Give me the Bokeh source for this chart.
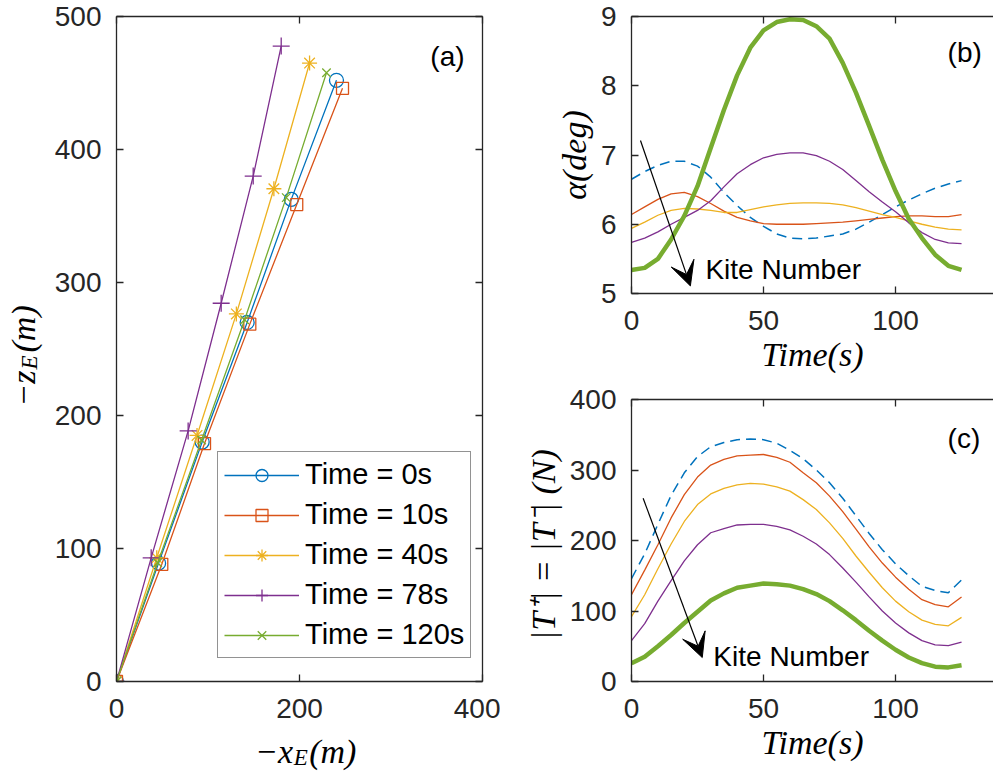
import math
from bokeh.plotting import figure
from bokeh.layouts import row, column
from bokeh.core.properties import value
from bokeh.models import (Range1d, LinearAxis, FixedTicker, Label, Legend,
                          LegendItem, Arrow, VeeHead, CustomLabelingPolicy)
from bokeh.embed import file_html
from bokeh.resources import INLINE

# ---------------- data ----------------
# panel (a): kite positions along the tether at several times
a_names = ["Time = 0s", "Time = 10s", "Time = 40s", "Time = 78s", "Time = 120s"]
a_x_t0 = [0, 46, 93.6, 142.8, 191, 240.4]
a_z_t0 = [0, 89, 180, 270, 362.5, 452]
a_x_t10 = [0, 49.5, 96.2, 145.7, 197, 247]
a_z_t10 = [0, 88.1, 178.9, 268.7, 358.6, 446]
a_x_t40 = [0, 44, 88, 131, 172, 211]
a_z_t40 = [0, 93, 185, 276.4, 370.5, 465]
a_x_t78 = [0, 37.9, 78.3, 114.4, 149.4, 180]
a_z_t78 = [0, 93, 188.4, 284.4, 380, 477.8]
a_x_t120 = [0, 45, 93, 140, 185.5, 229.5]
a_z_t120 = [0, 89.3, 181.6, 272, 363.8, 457.7]

# panels (b) and (c): time series for each kite
time_s = [0, 5, 10, 15, 20, 25, 30, 35, 40, 45, 50, 55, 60, 65, 70, 75, 80,
          85, 90, 95, 100, 105, 110, 115, 120, 125]
alpha_k1 = [6.65, 6.76, 6.85, 6.91, 6.91, 6.84, 6.68, 6.46, 6.27, 6.10, 5.97, 5.86, 5.80,
            5.79, 5.80, 5.83, 5.86, 5.93, 6.03, 6.14, 6.25, 6.35, 6.44, 6.52, 6.58, 6.63]
alpha_k2 = [6.14, 6.25, 6.36, 6.44, 6.46, 6.40, 6.30, 6.19, 6.10, 6.05, 6.01, 6.00, 6.00,
            6.00, 6.01, 6.02, 6.03, 6.05, 6.07, 6.09, 6.11, 6.12, 6.12, 6.11, 6.11, 6.14]
alpha_k3 = [5.94, 6.03, 6.13, 6.20, 6.23, 6.22, 6.20, 6.17, 6.17, 6.21, 6.25, 6.28, 6.30,
            6.31, 6.31, 6.30, 6.28, 6.24, 6.19, 6.14, 6.10, 6.05, 6.00, 5.96, 5.93, 5.92]
alpha_k4 = [5.74, 5.80, 5.89, 6.00, 6.10, 6.20, 6.34, 6.54, 6.73, 6.86, 6.96, 7.01, 7.03,
            7.03, 6.99, 6.91, 6.79, 6.63, 6.47, 6.32, 6.18, 6.02, 5.88, 5.78, 5.73, 5.72]
alpha_k5 = [5.34, 5.37, 5.50, 5.78, 6.12, 6.55, 7.10, 7.65, 8.15, 8.55, 8.80, 8.92, 8.96,
            8.95, 8.86, 8.68, 8.33, 7.90, 7.42, 6.93, 6.48, 6.08, 5.80, 5.56, 5.40, 5.34]
tension_k1 = [146, 181, 223, 264, 296, 319, 333, 339, 343, 344, 343, 338, 328,
              316, 300, 282, 260, 235, 210, 187, 167, 150, 135, 129, 126, 144]
tension_k2 = [123, 158, 194, 232, 265, 290, 307, 315, 320, 321, 322, 318, 311,
              296, 282, 263, 241, 216, 191, 168, 148, 131, 116, 109, 106, 120]
tension_k3 = [92, 123, 160, 195, 227, 251, 266, 274, 279, 281, 280, 276, 270,
              258, 244, 225, 203, 178, 155, 133, 114, 99, 87, 81, 79, 91]
tension_k4 = [58, 82, 114, 143, 171, 194, 211, 217, 222, 223, 223, 220, 215,
              206, 195, 180, 161, 141, 120, 100, 83, 69, 58, 52, 51, 56]
tension_k5 = [26, 35, 50, 66, 83, 99, 115, 125, 133, 136, 139, 138, 136,
              131, 124, 114, 101, 87, 72, 58, 45, 34, 26, 21, 20, 23]

a_xticks = [0, 200, 400]
a_yticks = [0, 100, 200, 300, 400, 500]
t_ticks = [0, 50, 100]
alpha_ticks = [5, 6, 7, 8, 9]
tension_ticks = [0, 100, 200, 300, 400]

# ---------------- style ----------------
BLUE, ORANGE, YELLOW, PURPLE, GREEN = "#0072BD", "#D95319", "#EDB120", "#7E2F8E", "#77AC30"
AX = "#262626"
SANS = "Liberation Sans"
SERIF = "Liberation Serif"
ANG = math.pi / 2


def make_fig(w, h, xr, yr, mb):
    p = figure(width=w, height=h, x_range=Range1d(*xr), y_range=Range1d(*yr),
               output_backend="svg", toolbar_location=None,
               x_axis_location=None, y_axis_location=None,
               min_border_left=mb[0], min_border_right=mb[1],
               min_border_top=mb[2], min_border_bottom=mb[3])
    p.outline_line_color = None
    p.background_fill_color = "white"
    p.border_fill_color = "white"
    p.xgrid.visible = False
    p.ygrid.visible = False
    return p


def add_axis(p, side, ticks, labels=True, title=None, title_standoff=0):
    ax = LinearAxis(ticker=FixedTicker(ticks=ticks))
    ax.major_tick_in = 7
    ax.major_tick_out = 0
    ax.minor_tick_in = 0
    ax.minor_tick_out = 0
    ax.axis_line_color = AX
    ax.axis_line_width = 1.3
    ax.major_tick_line_color = AX
    ax.major_tick_line_width = 1.3
    ax.major_label_text_font = SANS
    ax.major_label_text_color = AX
    if labels:
        ax.major_label_text_font_size = "28px"
        ax.major_label_standoff = 17 if side in ("below", "above") else 15
    else:
        ax.major_label_text_font_size = "0px"
        ax.major_label_standoff = 0
        ax.major_label_policy = CustomLabelingPolicy(
            code="try { return new indices.constructor(indices.size, 0) } catch (e) { return indices }")
    if title is not None:
        ax.axis_label = title
        ax.axis_label_text_font = SERIF
        ax.axis_label_text_font_style = "italic"
        ax.axis_label_text_font_size = "34px"
        ax.axis_label_text_color = "black"
        ax.axis_label_standoff = title_standoff
    p.add_layout(ax, side)
    return ax


def label_fig(w, h):
    """A bare canvas (pixel coordinates, origin bottom-left) that carries axis titles."""
    f = figure(width=w, height=h, x_range=Range1d(0, w), y_range=Range1d(0, h),
               output_backend="svg", toolbar_location=None,
               x_axis_location=None, y_axis_location=None,
               min_border_left=0, min_border_right=0, min_border_top=0, min_border_bottom=0)
    f.outline_line_color = None
    f.background_fill_color = "white"
    f.border_fill_color = "white"
    f.xgrid.visible = False
    f.ygrid.visible = False
    return f


def ttl(f, x, y, text, size="34px", angle=0.0, align="left"):
    f.text(x=[x], y=[y], text=[text], text_font=value(SERIF), text_font_style="italic",
           text_font_size=size, text_color="black", angle=angle, text_align=align,
           text_baseline="alphabetic")


def lab(p, x, y, text, size="28px"):
    p.add_layout(Label(x=x, y=y, text=text, text_font=SANS, text_font_size=size,
                       text_align="left", text_baseline="middle", text_color="black"))


# ---------------- panel (a) ----------------
pa = make_fig(452, 730, (0, 400), (0, 500), (68, 18, 16, 49))
add_axis(pa, "below", a_xticks)
add_axis(pa, "left", a_yticks)
add_axis(pa, "above", a_xticks, labels=False)
add_axis(pa, "right", a_yticks, labels=False)

series_a = [
    (a_x_t0, a_z_t0, BLUE, "circle", 14),
    (a_x_t10, a_z_t10, ORANGE, "square", 12),
    (a_x_t40, a_z_t40, YELLOW, "asterisk", 15),
    (a_x_t78, a_z_t78, PURPLE, "cross", 17),
    (a_x_t120, a_z_t120, GREEN, "x", 12),
]
items = []
for (xs, zs, col, mk, sz), name in zip(series_a, a_names):
    r1 = pa.line(xs, zs, line_color=col, line_width=1.3)
    r2 = pa.scatter(xs, zs, marker=mk, size=sz, line_color=col, fill_color=None,
                    line_width=1.3)
    items.append(LegendItem(label=name, renderers=[r1, r2]))

leg = Legend(items=items, location=(101, 23))
leg.label_text_font = SANS
leg.label_text_font_size = "29px"
leg.label_text_color = "black"
leg.glyph_width = 75
leg.glyph_height = 30
leg.label_height = 30
leg.label_standoff = 6
leg.spacing = 7
leg.padding = 6
leg.margin = 0
leg.border_line_color = AX
leg.border_line_width = 1.3
leg.background_fill_color = "white"
leg.background_fill_alpha = 1.0
pa.add_layout(leg)
lab(pa, 343, 470, "(a)")

# y title of (a):  -z_E(m), read bottom to top
ylab_a = label_fig(48, 775)
ttl(ylab_a, 23, 405, "\u2212z", angle=ANG, align="right")
ttl(ylab_a, 29, 406, "E", size="23px", angle=ANG)
ttl(ylab_a, 23, 423, "(m)", angle=ANG)

# x title of (a):  -x_E(m)
xlab_a = label_fig(452, 45)
ttl(xlab_a, 218, 24, "\u2212x", align="right")
ttl(xlab_a, 219, 18, "E", size="23px")
ttl(xlab_a, 238, 24, "(m)")

# ---------------- panel (b) ----------------
pb = make_fig(493, 383, (0, 137.1), (5, 9), (131, 0, 16, 90))
add_axis(pb, "below", t_ticks, title="Time(s)", title_standoff=3)
add_axis(pb, "left", alpha_ticks, title="\u03b1(deg)", title_standoff=5)
add_axis(pb, "above", t_ticks, labels=False)
pb.line(time_s, alpha_k1, line_color=BLUE, line_width=1.5, line_dash="10 6")
pb.line(time_s, alpha_k2, line_color=ORANGE, line_width=1.3)
pb.line(time_s, alpha_k3, line_color=YELLOW, line_width=1.3)
pb.line(time_s, alpha_k4, line_color=PURPLE, line_width=1.3)
pb.line(time_s, alpha_k5, line_color=GREEN, line_width=4.5, line_join="round")
pb.add_layout(Arrow(end=VeeHead(size=24, fill_color="black", line_color="black"),
                    x_start=3.4, y_start=7.21, x_end=22.3, y_end=5.11,
                    line_color="black", line_width=1.2))
lab(pb, 28, 5.35, "Kite Number")
lab(pb, 119.7, 8.48, "(b)")

# ---------------- panel (c) ----------------
pc = make_fig(493, 392, (0, 137.1), (0, 400), (131, 0, 16, 94))
add_axis(pc, "below", t_ticks, title="Time(s)", title_standoff=3)
add_axis(pc, "left", tension_ticks, title="|T\u207a| = |T\u207b|  (N)", title_standoff=5)
add_axis(pc, "above", t_ticks, labels=False)
pc.line(time_s, tension_k1, line_color=BLUE, line_width=1.5, line_dash="10 6")
pc.line(time_s, tension_k2, line_color=ORANGE, line_width=1.3)
pc.line(time_s, tension_k3, line_color=YELLOW, line_width=1.3)
pc.line(time_s, tension_k4, line_color=PURPLE, line_width=1.3)
pc.line(time_s, tension_k5, line_color=GREEN, line_width=4.5, line_join="round")
pc.add_layout(Arrow(end=VeeHead(size=24, fill_color="black", line_color="black"),
                    x_start=4.4, y_start=260, x_end=26.8, y_end=34,
                    line_color="black", line_width=1.2))
lab(pc, 31, 35, "Kite Number")
lab(pc, 119.7, 345, "(c)")

layout = row(
    ylab_a,
    column(pa, xlab_a),
    column(pb, pc),
)
open("out.html", "w").write(file_html(layout, INLINE))
